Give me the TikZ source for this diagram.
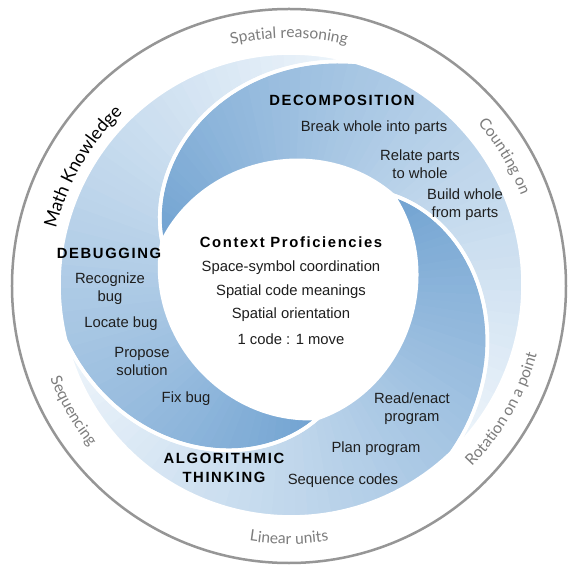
\documentclass[tikz,border=0pt]{standalone}
\usepackage{fontspec}
\setmainfont{Liberation Sans}
\newfontfamily\headfont[LetterSpace=11]{Liberation Sans}
\newfontfamily\ringfont{Lato}
\usetikzlibrary{decorations.text}

\definecolor{bladehead}{RGB}{112,162,209}
\definecolor{bladetail}{RGB}{238,245,251}
\definecolor{ringgray}{RGB}{125,125,125}
\definecolor{rimgray}{RGB}{150,150,150}
\definecolor{labelink}{RGB}{30,30,30}

% one swirl blade, tip at angle 0, running clockwise
\newcommand\bladeoutline{%
  plot[domain=0:87.5, samples=40] ({-\x}:{136+96*(1.25*\x/87.5-0.25*(\x/87.5)^2)})
  arc[start angle=-87.5, end angle=-207.5, radius=232]
  -- plot[domain=87.5:0, samples=40] ({-120-\x}:{136+96*(1.25*\x/87.5-0.25*(\x/87.5)^2)})
  -- plot[domain=120:0, samples=50] ({-\x}:{136-12*sin(1.5*\x)})
  -- cycle}

% blade filled with an angular gradient from head to tail
\newcommand\bladefill[1]{%
  \begin{scope}[rotate=#1]
    \clip \bladeoutline;
    \foreach \i in {0,...,69}{
      \pgfmathsetmacro\aa{-\i*207.5/70+0.2}
      \pgfmathsetmacro\ab{-(\i+1)*207.5/70-0.8}
      \pgfmathtruncatemacro\pc{100-100*(\i+0.5)/70}
      \fill[bladehead!\pc!bladetail] (0,0) -- (\aa:300)
        arc[start angle=\aa, end angle=\ab, radius=300] -- cycle;
    }
  \end{scope}}

\tikzset{
  item/.style={font=\fontsize{14.8}{18}\selectfont, align=center, text=labelink, inner sep=0pt},
  heading/.style={font=\headfont\bfseries\fontsize{14.8}{19}\selectfont, align=center, text=black, inner sep=0pt},
  ringlabel/.style={decorate, decoration={text along path, text align=center, text color=ringgray}},
}

\begin{document}
\begin{tikzpicture}[x=1pt, y=1pt]
\useasboundingbox (-291,-282) rectangle (279,285);
\fill[white] (-291,-282) rectangle (279,285);

% outer rim
\draw[rimgray, line width=2.5] (-2,-1) circle[radius=277];

% swirl blades
\bladefill{161.4}
\bladefill{41.4}
\bladefill{-78.6}
\foreach \a in {161.4,41.4,-78.6}{
  \draw[white, line width=3.6, line join=round, rotate=\a] \bladeoutline;
}

% labels around the rim
\path[ringlabel, decoration={text={|\ringfont\fontsize{15.6}{18}\selectfont|Spatial reasoning}}]
  ([shift={(-2,-1)}]150:248) arc[start angle=150, end angle=30, radius=248];
\path[ringlabel, decoration={text={|\ringfont\fontsize{15.6}{18}\selectfont|Counting on}}]
  ([shift={(-2,-1)}]91:249) arc[start angle=91, end angle=-29, radius=249];
\path[ringlabel, decoration={text={|\ringfont\fontsize{15.6}{18}\selectfont|Rotation on a point}}]
  ([shift={(-2,-1)}]-90:257) arc[start angle=-90, end angle=30, radius=257];
\path[ringlabel, decoration={text={|\ringfont\fontsize{15.6}{18}\selectfont|Linear units}}]
  ([shift={(-2,-1)}]-150:258) arc[start angle=-150, end angle=-30, radius=258];
\path[ringlabel, decoration={text={|\ringfont\fontsize{15.6}{18}\selectfont|Sequencing}}]
  ([shift={(-2,-1)}]150:256) arc[start angle=150, end angle=270, radius=256];
\path[decorate, decoration={text along path, text align=center, text color=black,
    text={|\ringfont\fontsize{18}{21}\selectfont|Math Knowledge}}]
  ([shift={(-2,-1)}]210:240) arc[start angle=210, end angle=90, radius=240];

% decomposition
\node[heading] (dec) at (51,185) {DECOMPOSITION};
\node[item] (dec1) at (83,157) {Break whole into parts};
\node[item] (dec2) at (129,121) {Relate parts\\to whole};
\node[item] (dec3) at (174,80) {Build whole\\from parts};

% debugging
\node[heading] (dbg) at (-182,32) {DEBUGGING};
\node[item] (dbg1) at (-181,-4) {Recognize\\bug};
\node[item] (dbg2) at (-170,-39) {Locate bug};
\node[item] (dbg3) at (-149,-76) {Propose\\solution};
\node[item] (dbg4) at (-105,-114) {Fix bug};

% algorithmic thinking
\node[heading] (alg) at (-67,-183) {ALGORITHMIC\\THINKING};
\node[item] (alg1) at (121,-124) {Read/enact\\program};
\node[item] (alg2) at (85,-164) {Plan program};
\node[item] (alg3) at (52,-196) {Sequence codes};

% centre
\node[heading] (ctx) at (0,43) {Context Proficiencies};
\node[item] (ctx1) at (0,17) {Space-symbol coordination};
\node[item] (ctx2) at (0,-7) {Spatial code meanings};
\node[item] (ctx3) at (0,-30) {Spatial orientation};
\node[item] (ctx4) at (0,-54) {1 code : 1 move};
\end{tikzpicture}
\end{document}
